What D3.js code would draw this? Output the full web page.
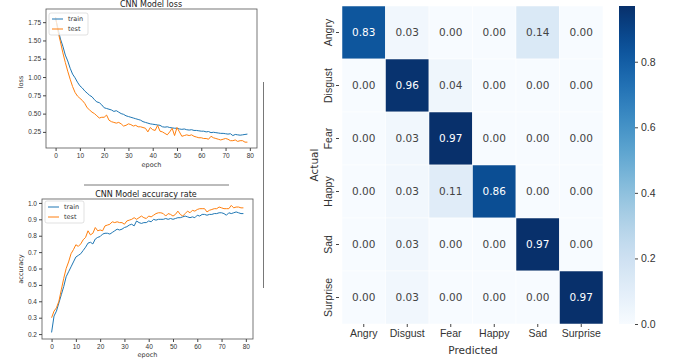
<!DOCTYPE html>
<html>
<head>
<meta charset="utf-8">
<script src="https://cdn.jsdelivr.net/npm/d3@7"></script>
<style>
  body { margin: 0; background: #fff; }
  svg { font-family: "DejaVu Sans", sans-serif; }
  .axis path, .axis line { stroke: #444; }
  .axis text { fill: #333; }
</style>
</head>
<body>
<svg id="chart" width="673" height="360"></svg>
<script>
// loss per epoch
var lossTrain = [1.80,1.66,1.52,1.42,1.30,1.22,1.12,1.04,0.99,0.93,
    0.88,0.85,0.81,0.78,0.75,0.73,0.69,0.66,0.65,0.62,
    0.58,0.57,0.56,0.55,0.53,0.54,0.52,0.50,0.49,0.47,
    0.46,0.45,0.44,0.43,0.42,0.41,0.39,0.38,0.37,0.36,
    0.355,0.35,0.345,0.34,0.32,0.315,0.32,0.31,0.305,0.30,
    0.30,0.29,0.285,0.29,0.28,0.275,0.28,0.27,0.27,0.265,
    0.26,0.26,0.25,0.255,0.24,0.245,0.24,0.235,0.23,0.23,
    0.225,0.22,0.225,0.20,0.215,0.21,0.205,0.21,0.215,0.22];
var lossTest = [1.82,1.62,1.48,1.33,1.20,1.08,0.97,0.87,0.79,0.74,
    0.71,0.68,0.64,0.58,0.55,0.52,0.50,0.47,0.44,0.45,
    0.45,0.48,0.41,0.39,0.38,0.37,0.38,0.36,0.33,0.34,
    0.36,0.35,0.33,0.34,0.32,0.32,0.31,0.30,0.25,0.31,
    0.28,0.27,0.34,0.26,0.25,0.23,0.21,0.25,0.30,0.20,
    0.31,0.25,0.19,0.20,0.21,0.20,0.21,0.19,0.18,0.17,
    0.17,0.16,0.16,0.15,0.19,0.17,0.16,0.15,0.14,0.15,
    0.16,0.15,0.13,0.13,0.14,0.12,0.13,0.13,0.11,0.11];

// accuracy per epoch
var accTrain = [0.21,0.31,0.34,0.39,0.44,0.49,0.55,0.58,0.61,0.64,
    0.67,0.68,0.69,0.71,0.73,0.755,0.76,0.75,0.78,0.79,
    0.795,0.81,0.815,0.815,0.81,0.82,0.83,0.84,0.835,0.84,
    0.85,0.855,0.865,0.87,0.86,0.89,0.88,0.875,0.88,0.88,
    0.89,0.885,0.90,0.895,0.90,0.90,0.90,0.905,0.90,0.905,
    0.90,0.905,0.91,0.91,0.915,0.92,0.915,0.91,0.915,0.91,
    0.925,0.92,0.93,0.93,0.925,0.93,0.93,0.935,0.935,0.94,
    0.94,0.935,0.925,0.94,0.935,0.94,0.945,0.94,0.935,0.935];
var accTest = [0.30,0.34,0.36,0.40,0.47,0.54,0.60,0.64,0.69,0.715,
    0.745,0.735,0.75,0.775,0.79,0.83,0.805,0.815,0.85,0.83,
    0.835,0.83,0.86,0.865,0.87,0.885,0.88,0.885,0.88,0.88,
    0.87,0.89,0.895,0.90,0.91,0.90,0.91,0.92,0.91,0.905,
    0.92,0.915,0.925,0.935,0.94,0.94,0.935,0.92,0.935,0.93,
    0.92,0.93,0.95,0.93,0.92,0.935,0.95,0.94,0.955,0.95,
    0.96,0.965,0.965,0.965,0.945,0.955,0.96,0.965,0.965,0.975,
    0.97,0.965,0.965,0.965,0.985,0.97,0.975,0.975,0.97,0.97];

// confusion matrix (normalised)
var classes = ["Angry","Disgust","Fear","Happy","Sad","Surprise"];
var matrix = [[0.83,0.03,0.00,0.00,0.14,0.00],
    [0.00,0.96,0.04,0.00,0.00,0.00],
    [0.00,0.03,0.97,0.00,0.00,0.00],
    [0.00,0.03,0.11,0.86,0.00,0.00],
    [0.00,0.03,0.00,0.00,0.97,0.00],
    [0.00,0.03,0.00,0.00,0.00,0.97]];
var lossTicks = [0.25,0.50,0.75,1.00,1.25,1.50,1.75];
var accTicks = [0.2,0.3,0.4,0.5,0.6,0.7,0.8,0.9,1.0];
var epochTicks = [0,10,20,30,40,50,60,70,80];
var cbarTicks = [0.0,0.2,0.4,0.6,0.8];

var svg = d3.select('#chart');

function lineChart(opt) {
    var g = svg.append('g');
    var x = d3.scaleLinear().domain([-3.95, 82.95]).range([opt.left, opt.right]);
    var y = d3.scaleLinear().domain(opt.ydom).range([opt.bottom, opt.top]);

    var line = d3.line()
        .x(function(d, i){ return x(i); })
        .y(function(d){ return y(d); });

    g.append('path').datum(opt.train).attr('d', line)
        .attr('fill', 'none').attr('stroke', '#1f77b4').attr('stroke-width', 1);
    g.append('path').datum(opt.test).attr('d', line)
        .attr('fill', 'none').attr('stroke', '#ff7f0e').attr('stroke-width', 1);

    g.append('rect')
        .attr('x', opt.left).attr('y', opt.top)
        .attr('width', opt.right - opt.left).attr('height', opt.bottom - opt.top)
        .attr('fill', 'none').attr('stroke', '#555').attr('stroke-width', 0.8);

    var xa = g.append('g').attr('class', 'axis')
        .attr('transform', 'translate(0,' + opt.bottom + ')')
        .call(d3.axisBottom(x).tickValues(epochTicks).tickSize(3).tickPadding(2).tickFormat(d3.format('d')));
    xa.select('.domain').remove();
    xa.selectAll('text').attr('font-size', '6.5px');

    var ya = g.append('g').attr('class', 'axis')
        .attr('transform', 'translate(' + opt.left + ',0)')
        .call(d3.axisLeft(y).tickValues(opt.yticks).tickSize(3).tickPadding(2).tickFormat(d3.format(opt.yfmt)));
    ya.select('.domain').remove();
    ya.selectAll('text').attr('font-size', '6.5px');

    var mid = (opt.left + opt.right) / 2;
    g.append('text').attr('x', opt.titleX).attr('y', opt.titleY)
        .attr('text-anchor', 'middle').attr('font-size', '8px').attr('fill', '#222')
        .text(opt.title);
    g.append('text').attr('x', mid).attr('y', opt.xlabY)
        .attr('text-anchor', 'middle').attr('font-size', '6.5px').attr('fill', '#333')
        .text('epoch');
    g.append('text')
        .attr('transform', 'translate(23,' + opt.ylabY + ') rotate(-90)')
        .attr('text-anchor', 'middle').attr('font-size', '6.5px').attr('fill', '#333')
        .text(opt.ylab);

    // legend
    var lg = g.append('g').attr('transform', 'translate(' + opt.legX + ',' + opt.legY + ')');
    lg.append('rect').attr('width', 39).attr('height', 22).attr('rx', 2)
        .attr('fill', '#fff').attr('fill-opacity', 0.8).attr('stroke', '#ccc').attr('stroke-width', 0.6);
    [['train', '#1f77b4'], ['test', '#ff7f0e']].forEach(function(d, i){
        lg.append('line').attr('x1', 3).attr('x2', 14)
            .attr('y1', 6 + i * 10).attr('y2', 6 + i * 10)
            .attr('stroke', d[1]).attr('stroke-width', 1);
        lg.append('text').attr('x', 19).attr('y', 8.3 + i * 10)
            .attr('font-size', '6.5px').attr('fill', '#333').text(d[0]);
    });
}

lineChart({left: 46, right: 257, top: 9, bottom: 148, ydom: [0.03, 1.93],
    train: lossTrain, test: lossTest, yticks: lossTicks, yfmt: '.2f',
    title: 'CNN Model loss', titleX: 151, titleY: 7, xlabY: 167,
    ylab: 'loss', ylabY: 82, legX: 49, legY: 13});

lineChart({left: 42, right: 253, top: 199, bottom: 339, ydom: [0.17, 1.024],
    train: accTrain, test: accTest, yticks: accTicks, yfmt: '.1f',
    title: 'CNN Model accuracy rate', titleX: 146, titleY: 197, xlabY: 357,
    ylab: 'accuracy', ylabY: 269, legX: 45, legY: 201});

// stray lines from the source figure
svg.append('line').attr('x1', 84).attr('x2', 229).attr('y1', 185).attr('y2', 185)
    .attr('stroke', '#555').attr('stroke-width', 0.8);
svg.append('line').attr('x1', 263.5).attr('x2', 263.5).attr('y1', 82).attr('y2', 288)
    .attr('stroke', '#555').attr('stroke-width', 0.8);

// heatmap
var vmax = 0.97;
var hx = d3.scaleBand().domain(classes).range([342, 603]);
var hy = d3.scaleBand().domain(classes).range([6, 324]);
var color = d3.scaleSequential(d3.interpolateBlues).domain([0, vmax]);

var cells = [];
matrix.forEach(function(row, i){
    row.forEach(function(v, j){
        cells.push({r: classes[i], c: classes[j], v: v});
    });
});

var hm = svg.append('g');
hm.selectAll('rect').data(cells).enter().append('rect')
    .attr('x', function(d){ return hx(d.c); })
    .attr('y', function(d){ return hy(d.r); })
    .attr('width', hx.bandwidth())
    .attr('height', hy.bandwidth())
    .attr('fill', function(d){ return color(d.v); })
    .attr('stroke', '#fff').attr('stroke-width', 0.5);

hm.selectAll('text.val').data(cells).enter().append('text')
    .attr('class', 'val')
    .attr('x', function(d){ return hx(d.c) + hx.bandwidth() / 2; })
    .attr('y', function(d){ return hy(d.r) + hy.bandwidth() / 2; })
    .attr('dy', '0.35em')
    .attr('text-anchor', 'middle')
    .attr('font-size', '10.5px')
    .attr('fill', function(d){ return d.v > 0.5 ? '#fff' : '#444'; })
    .text(function(d){ return d3.format('.2f')(d.v); });

var hxa = svg.append('g').attr('class', 'axis')
    .attr('transform', 'translate(0,324)')
    .call(d3.axisBottom(hx).tickSize(3).tickPadding(3));
hxa.select('.domain').remove();
hxa.selectAll('text').attr('font-size', '10.5px');

var hya = svg.append('g').attr('class', 'axis')
    .attr('transform', 'translate(339,0)')
    .call(d3.axisLeft(hy).tickSize(3).tickPadding(3));
hya.select('.domain').remove();
hya.selectAll('text').attr('font-size', '10.5px')
    .attr('text-anchor', 'middle')
    .attr('transform', function(){ return 'rotate(-90,' + d3.select(this).attr('x') + ',0)'; })
    .attr('x', -6).attr('dy', '0');
// place the rotated labels
hya.selectAll('.tick text').attr('transform', 'rotate(-90)').attr('x', 0).attr('y', -7);

svg.append('text').attr('x', 473).attr('y', 354)
    .attr('text-anchor', 'middle').attr('font-size', '10.5px').attr('fill', '#333')
    .text('Predicted');
svg.append('text').attr('transform', 'translate(318,165) rotate(-90)')
    .attr('text-anchor', 'middle').attr('font-size', '10.5px').attr('fill', '#333')
    .text('Actual');

// colorbar
var cb = d3.scaleLinear().domain([0, vmax]).range([324, 6]);
var defs = svg.append('defs');
var grad = defs.append('linearGradient').attr('id', 'cbgrad')
    .attr('x1', 0).attr('x2', 0).attr('y1', 1).attr('y2', 0);
d3.range(0, 1.0001, 0.05).forEach(function(t){
    grad.append('stop').attr('offset', t).attr('stop-color', color(t * vmax));
});
svg.append('rect').attr('x', 619).attr('y', 6).attr('width', 16).attr('height', 318)
    .attr('fill', 'url(#cbgrad)');
var cba = svg.append('g').attr('class', 'axis')
    .attr('transform', 'translate(635,0)')
    .call(d3.axisRight(cb).tickValues(cbarTicks).tickSize(3).tickPadding(3).tickFormat(d3.format('.1f')));
cba.select('.domain').remove();
cba.selectAll('text').attr('font-size', '10.5px');
</script>
</body>
</html>
